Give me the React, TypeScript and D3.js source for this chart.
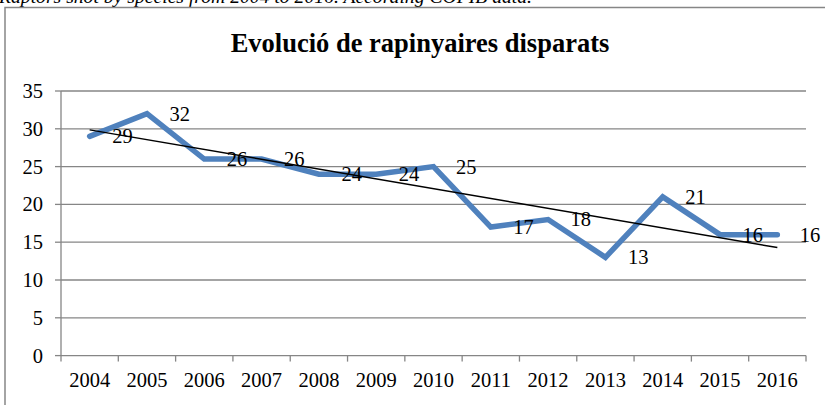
import React from "react";
import * as d3 from "d3";

const years = ["2004","2005","2006","2007","2008","2009","2010","2011","2012","2013","2014","2015","2016"];
const values = [29, 32, 26, 26, 24, 24, 25, 17, 18, 13, 21, 16, 16];
const yTicks = [0, 5, 10, 15, 20, 25, 30, 35];
const title = "Evolució de rapinyaires disparats";
const caption = "Raptors shot by species from 2004 to 2016. According COPIB data.";

const W = 825, H = 405;
const left = 61, right = 806, top = 91, bottom = 355.6;
const FONT = "'Liberation Serif', 'Times New Roman', serif";
const GRID = "#868686";

export default function App() {
  const x = d3.scaleBand<string>().domain(years).range([left, right]).padding(0);
  const cx = (d: string) => (x(d) as number) + x.bandwidth() / 2;
  const y = d3.scaleLinear().domain([0, 35]).range([bottom, top]);

  const line = d3.line<number>().x((_, i) => cx(years[i])).y((v) => y(v));

  // linear trend (least squares) over the series
  const n = values.length;
  const mx = d3.mean(values.map((_, i) => i)) as number;
  const my = d3.mean(values) as number;
  const sxy = d3.sum(values.map((v, i) => (i - mx) * (v - my)));
  const sxx = d3.sum(values.map((_, i) => (i - mx) * (i - mx)));
  const slope = sxy / sxx;
  const icpt = my - slope * mx;
  const t0 = icpt, t1 = icpt + slope * (n - 1);

  const tickBounds = d3.range(years.length + 1).map((i) => left + i * x.bandwidth());

  return (
    <svg width={W} height={H} style={{ position: "absolute", left: 0, top: 0, background: "#fff" }}>
      <rect x={0} y={0} width={W} height={H} fill="#fff" />
      <text x={-1} y={3} fontFamily={FONT} fontStyle="italic" fontSize={18} textLength={533} lengthAdjust="spacingAndGlyphs" fill="#000">
        {caption}
      </text>
      <rect x={5} y={7.5} width={W + 20} height={H + 20} fill="none" stroke={GRID} strokeWidth={1.5} />
      <text x={420} y={52} textAnchor="middle" fontFamily={FONT} fontWeight="bold" fontSize={26.5} fill="#000">
        {title}
      </text>
      {yTicks.map((t) => (
        <g key={t}>
          <line x1={left} x2={right} y1={y(t)} y2={y(t)} stroke={GRID} strokeWidth={1.3} />
          <line x1={left - 6} x2={left} y1={y(t)} y2={y(t)} stroke={GRID} strokeWidth={1.3} />
          <text x={43} y={y(t)} dy="0.34em" textAnchor="end" fontFamily={FONT} fontSize={20.5} fill="#000">{t}</text>
        </g>
      ))}
      <line x1={left} x2={left} y1={top} y2={bottom} stroke={GRID} strokeWidth={1.3} />
      {tickBounds.map((b, i) => (
        <line key={i} x1={b} x2={b} y1={bottom} y2={bottom + 6} stroke={GRID} strokeWidth={1.3} />
      ))}
      {years.map((yr) => (
        <text key={yr} x={cx(yr)} y={387} textAnchor="middle" fontFamily={FONT} fontSize={20.5} fill="#000">{yr}</text>
      ))}
      <path d={line(values) as string} fill="none" stroke="#4F81BD" strokeWidth={5.5} strokeLinejoin="miter" strokeLinecap="round" />
      <line x1={cx(years[0])} x2={cx(years[n - 1])} y1={y(t0)} y2={y(t1)} stroke="#000" strokeWidth={1.5} />
      {values.map((v, i) => (
        <text key={i} x={cx(years[i]) + 22.5} y={y(v)} dy="0.34em" fontFamily={FONT} fontSize={20.5} fill="#000">{v}</text>
      ))}
    </svg>
  );
}
